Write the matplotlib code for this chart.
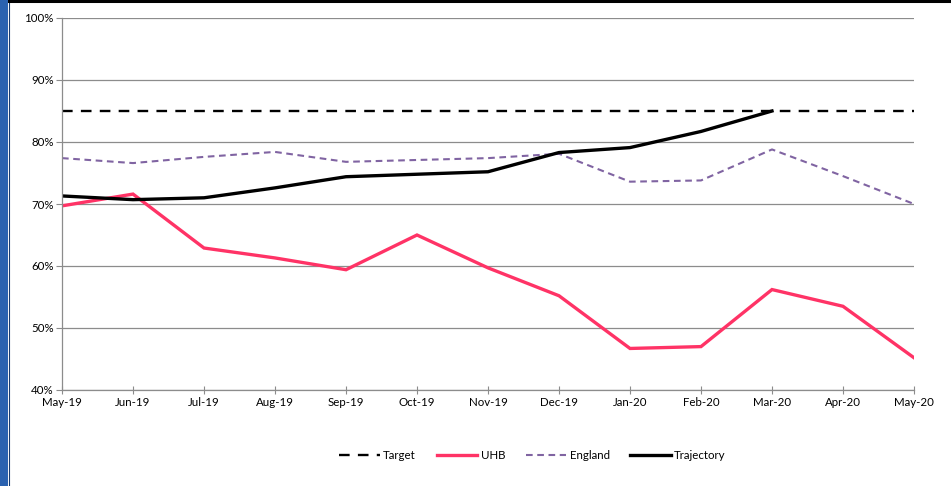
import matplotlib
matplotlib.use('Agg')
import matplotlib.pyplot as plt
from matplotlib.patches import Rectangle
from matplotlib.lines import Line2D

plt.rcParams['font.family'] = ['Lato', 'DejaVu Sans']

months = ['May-19', 'Jun-19', 'Jul-19', 'Aug-19', 'Sep-19', 'Oct-19', 'Nov-19',
          'Dec-19', 'Jan-20', 'Feb-20', 'Mar-20', 'Apr-20', 'May-20']
target = [85] * 13
uhb = [69.7, 71.6, 62.9, 61.3, 59.4, 65.0, 59.7, 55.2, 46.7, 47.0, 56.2, 53.5, 45.2]
england = [77.4, 76.6, 77.6, 78.4, 76.8, 77.1, 77.4, 78.1, 73.6, 73.8, 78.8, 74.5, 70.0]
trajectory = [71.3, 70.7, 71.0, 72.6, 74.4, 74.8, 75.2, 78.3, 79.1, 81.7, 85.0]
yticks = [40, 50, 60, 70, 80, 90, 100]

fig = plt.figure(figsize=(9.51, 4.86), dpi=100)
ax = fig.add_axes([62 / 951, 1 - 390 / 486, 852 / 951, 372 / 486])

x = list(range(len(months)))
ax.plot(x, target, color='black', lw=1.7, dashes=(4.5, 3.5), label='Target')
ax.plot(x, uhb, color='#FF3366', lw=2.4, label='UHB', solid_joinstyle='miter')
ax.plot(x, england, color='#8064A2', lw=1.5, dashes=(3.2, 2.2), label='England')
ax.plot(x[:len(trajectory)], trajectory, color='black', lw=2.4, label='Trajectory')

ax.set_xlim(0, len(months) - 1)
ax.set_ylim(40, 100)
ax.set_xticks(x)
ax.set_xticklabels(months)
ax.set_yticks(yticks)
ax.set_yticklabels([f'{v}%' for v in yticks])
ax.grid(axis='y', color='#8c8c8c', lw=0.9)
ax.set_axisbelow(True)
for s in ['top', 'right']:
    ax.spines[s].set_visible(False)
for s in ['left', 'bottom']:
    ax.spines[s].set_color('#8c8c8c')
    ax.spines[s].set_linewidth(0.9)
ax.tick_params(axis='x', direction='inout', length=6, color='#8c8c8c', labelsize=8.3, pad=2)
ax.tick_params(axis='y', direction='out', length=4, color='#8c8c8c', labelsize=8.3, pad=2)

fig.legend(loc='center', bbox_to_anchor=(0.56, 0.062), ncol=4, frameon=False,
           fontsize=8.3, handlelength=3.5, columnspacing=1.8, handletextpad=0.3)

# page frame: blue bar on the left, black rule on top
fig.patches.append(Rectangle((0, 0), 8 / 951, 1, transform=fig.transFigure,
                             facecolor='#2A62B0', edgecolor='none', zorder=10))
fig.lines.append(Line2D([8.5 / 951, 8.5 / 951], [0, 1], transform=fig.transFigure,
                        color='#1a3d70', lw=0.8))
fig.lines.append(Line2D([8 / 951, 1], [1 - 1.2 / 486, 1 - 1.2 / 486],
                        transform=fig.transFigure, color='black', lw=2.2))

fig.savefig('out.png', dpi=100)
